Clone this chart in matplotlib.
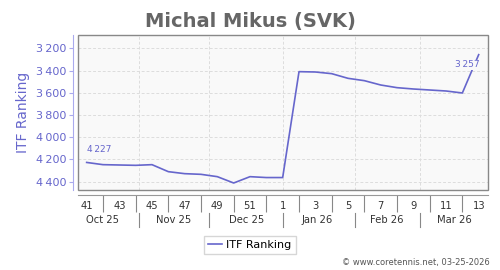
import numpy as np
import matplotlib.pyplot as plt
from matplotlib.patches import Rectangle
from matplotlib.ticker import FuncFormatter
import matplotlib.transforms as mtransforms

# dados
semanas = [41, 42, 43, 44, 45, 46, 47, 48, 49, 50, 51, 52,
           1, 2, 3, 4, 5, 6, 7, 8, 9, 10, 11, 12, 13]
ranking = [4227, 4247, 4250, 4253, 4247, 4310, 4328, 4334, 4355, 4412, 4355, 4363,
           4363, 3410, 3413, 3428, 3470, 3491, 3530, 3554, 3566, 3575, 3584, 3602, 3257]
meses = ['Oct 25', 'Nov 25', 'Dec 25', 'Jan 26', 'Feb 26', 'Mar 26']
meses_pos = [1.0, 5.3, 9.8, 14.1, 18.4, 22.5]
meses_sep = [3.2, 7.5, 12.0, 16.4, 20.4]
y_ticks = [3200, 3400, 3600, 3800, 4000, 4200, 4400]

cor = '#6666cc'
x = np.arange(len(semanas))

fig = plt.figure(figsize=(5, 2.7), dpi=100)
ax = fig.add_axes([0.156, 0.2963, 0.82, 0.5741])
ax.set_facecolor('#f9f9f9')

ax.plot(x, ranking, color=cor, lw=1.2, label='ITF Ranking', zorder=3)

ax.set_xlim(-0.53, 24.57)
ax.set_ylim(4475, 3080)

# grade
ax.set_yticks(y_ticks)
ax.yaxis.set_major_formatter(FuncFormatter(lambda v, p: f'{int(v):,}'.replace(',', '\u2009')))
ax.grid(axis='y', color='#dddddd', ls=(0, (3, 2)), lw=0.7)
for s in meses_sep:
    ax.axvline(s, color='#dddddd', ls=(0, (3, 2)), lw=0.7, zorder=1)

# eixo x
ax.set_xticks(x[::2])
ax.set_xticklabels([str(w) for w in semanas[::2]])
ax.set_xticks(x[1::2], minor=True)
ax.tick_params(axis='x', which='major', length=0, pad=4, labelsize=7.2, labelcolor='#333333')
ax.tick_params(axis='x', which='minor', length=12, width=0.8, color='#888888')
ax.tick_params(axis='y', length=3, width=0.8, color='#aaaaee', labelsize=8, labelcolor=cor, pad=2)

for lado in ['top', 'right']:
    ax.spines[lado].set_visible(False)
ax.spines['left'].set_position(('outward', 3.6))
ax.spines['left'].set_color('#aaaaee')
ax.spines['bottom'].set_position(('outward', 3.6))
ax.spines['bottom'].set_color('#999999')
ax.add_patch(Rectangle((0, 0), 1, 1, transform=ax.transAxes, fill=False,
                       edgecolor='#888888', lw=1.0, clip_on=False, zorder=4))

trans = mtransforms.blended_transform_factory(ax.transData, ax.transAxes)
for m, p in zip(meses, meses_pos):
    ax.text(p, -0.194, m, transform=trans, ha='center', va='center', fontsize=7.2, color='#333333')
for s in meses_sep:
    ax.plot([s, s], [-0.15, -0.24], transform=trans, color='#888888', lw=0.8, clip_on=False)

ax.set_ylabel('ITF Ranking', color=cor, fontsize=10, labelpad=4)

# anotacoes
ax.annotate('4\u2009227', (x[0], ranking[0]), xytext=(0, 6), textcoords='offset points',
            ha='left', va='bottom', fontsize=6.5, color=cor)
ax.annotate('3\u2009257', (x[-1], ranking[-1]), xytext=(1, -4), textcoords='offset points',
            ha='right', va='top', fontsize=6.5, color=cor,
            bbox=dict(boxstyle='square,pad=0.05', fc='#f9f9f9', ec='none'))

fig.suptitle('Michal Mikus (SVK)', x=0.5, y=0.955, fontsize=14, fontweight='bold', color='#666666')

fig.legend(loc='center', bbox_to_anchor=(0.5, 1 - 245 / 270), fontsize=8, frameon=True,
           fancybox=False, edgecolor='#cccccc', handlelength=1.2, handletextpad=0.4,
           borderpad=0.4)

fig.text(0.98, 1 - 263 / 270, '\u00a9 www.coretennis.net, 03-25-2026', ha='right', va='center',
         fontsize=6, color='#555555')

fig.savefig('out.png', dpi=100)
